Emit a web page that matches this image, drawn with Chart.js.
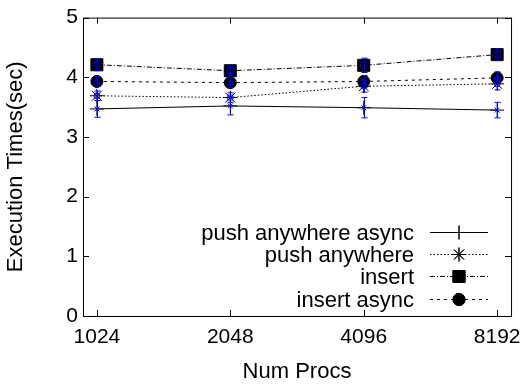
<!DOCTYPE html>
<html lang="en">
<head>
    <meta charset="UTF-8">
    <title>Execution Times</title>
    <script src="https://cdn.jsdelivr.net/npm/chart.js"></script>
    <style>
        body { margin: 0; background: #ffffff; }
        #wrap { width: 530px; height: 388px; }
    </style>
</head>
<body>
    <div id="wrap"><canvas id="chart" width="530" height="388"></canvas></div>

    <script>
        // categories and series
        const procs = ['1024', '2048', '4096', '8192'];
        const pushAnyAsync = [3.47, 3.52, 3.49, 3.45];
        const pushAnyAsyncErr = [0.14, 0.15, 0.17, 0.13];
        const pushAny = [3.69, 3.66, 3.85, 3.89];
        const pushAnyErr = [0.08, 0.08, 0.1, 0.1];
        const insert = [4.21, 4.11, 4.20, 4.38];
        const insertErr = [0.1, 0.08, 0.12, 0.1];
        const insertAsync = [3.93, 3.91, 3.93, 3.99];
        const insertAsyncErr = [0.08, 0.08, 0.1, 0.1];
        const yTicks = [0, 1, 2, 3, 4, 5];

        const FONT = 'Liberation Sans, Arial, sans-serif';
        const BLUE = '#0000ff';

        function pts(vals) {
            return vals.map((v, i) => ({ x: i, y: v }));
        }

        function mainSet(label, vals, dash, style, radius, fill) {
            return {
                label: label,
                data: pts(vals),
                borderColor: '#000',
                borderWidth: 1,
                borderDash: dash,
                pointStyle: style,
                pointRadius: radius,
                pointBorderColor: '#000',
                pointBackgroundColor: fill ? '#000' : 'rgba(0,0,0,0)',
                pointBorderWidth: 1,
                tension: 0,
                fill: false,
                order: 2,
                inLegend: true
            };
        }

        function errSet(vals, errs, style) {
            return {
                label: '',
                data: pts(vals),
                errs: errs,
                showLine: false,
                borderColor: BLUE,
                pointStyle: style,
                pointRadius: 3.5,
                pointBorderColor: BLUE,
                pointBackgroundColor: 'rgba(0,0,0,0)',
                pointBorderWidth: 1,
                order: 0
            };
        }

        // frame, mirrored inward ticks, error bars and the key
        const gnuplotLook = {
            id: 'gnuplotLook',
            afterDatasetsDraw(chart) {
                const ctx = chart.ctx;
                const a = chart.chartArea;
                const xs = chart.scales.x, ys = chart.scales.y;
                ctx.save();

                // error bars
                chart.data.datasets.forEach((ds) => {
                    if (!ds.errs) return;
                    ctx.strokeStyle = BLUE;
                    ctx.lineWidth = 1;
                    ds.data.forEach((p, i) => {
                        const px = Math.round(xs.getPixelForValue(p.x)) + 0.5;
                        const top = ys.getPixelForValue(p.y + ds.errs[i]);
                        const bot = ys.getPixelForValue(p.y - ds.errs[i]);
                        ctx.beginPath();
                        ctx.moveTo(px, top); ctx.lineTo(px, bot);
                        ctx.moveTo(px - 3, top); ctx.lineTo(px + 3, top);
                        ctx.moveTo(px - 3, bot); ctx.lineTo(px + 3, bot);
                        ctx.stroke();
                    });
                });

                // border
                ctx.strokeStyle = '#000';
                ctx.lineWidth = 1;
                ctx.strokeRect(a.left + 0.5, a.top + 0.5, a.right - a.left, a.bottom - a.top);

                // inward ticks on all four sides
                const tl = 6;
                ctx.beginPath();
                yTicks.forEach((v) => {
                    const y = Math.round(ys.getPixelForValue(v)) + 0.5;
                    ctx.moveTo(a.left, y); ctx.lineTo(a.left + tl, y);
                    ctx.moveTo(a.right, y); ctx.lineTo(a.right - tl, y);
                });
                procs.forEach((c, i) => {
                    const x = Math.round(xs.getPixelForValue(i)) + 0.5;
                    ctx.moveTo(x, a.bottom); ctx.lineTo(x, a.bottom - tl);
                    ctx.moveTo(x, a.top); ctx.lineTo(x, a.top + tl);
                });
                ctx.stroke();

                // key, lower right inside the plot
                const textRight = 414, lineL = 430, lineR = 488, rowY = 232, rowH = 22.2;
                ctx.font = '22px ' + FONT;
                ctx.textAlign = 'right';
                ctx.textBaseline = 'middle';
                ctx.fillStyle = '#000';
                const keySets = chart.data.datasets.filter((ds) => ds.inLegend);
                keySets.forEach((ds, k) => {
                    const y = Math.round(rowY + k * rowH) + 0.5;
                    ctx.fillText(ds.label, textRight, y + 1);
                    ctx.setLineDash(ds.borderDash);
                    ctx.beginPath();
                    ctx.moveTo(lineL, y); ctx.lineTo(lineR, y);
                    ctx.stroke();
                    ctx.setLineDash([]);
                    Chart.helpers.drawPoint(ctx, {
                        pointStyle: ds.pointStyle,
                        radius: ds.pointRadius,
                        borderWidth: 1
                    }, (lineL + lineR) / 2, y);
                    ctx.fillStyle = ds.pointBackgroundColor;
                    ctx.strokeStyle = '#000';
                    if (ds.pointBackgroundColor === '#000') ctx.fill();
                    ctx.stroke();
                    ctx.fillStyle = '#000';
                });
                ctx.restore();
            }
        };

        new Chart(document.getElementById('chart').getContext('2d'), {
            type: 'line',
            data: {
                datasets: [
                    errSet(pushAnyAsync, pushAnyAsyncErr, 'crossRot'),
                    errSet(pushAny, pushAnyErr, 'rect'),
                    errSet(insert, insertErr, 'circle'),
                    errSet(insertAsync, insertAsyncErr, 'triangle'),
                    mainSet('push anywhere async', pushAnyAsync, [], 'cross', 7, false),
                    mainSet('push anywhere', pushAny, [1.5, 2], 'star', 7, false),
                    mainSet('insert', insert, [5, 2, 1, 2], 'rect', 8.5, true),
                    mainSet('insert async', insertAsync, [3, 4], 'circle', 6, true)
                ]
            },
            options: {
                responsive: false,
                animation: false,
                layout: { padding: { top: 11, right: 15, left: 0, bottom: 0 } },
                plugins: {
                    legend: { display: false },
                    tooltip: { enabled: false }
                },
                scales: {
                    x: {
                        type: 'linear',
                        min: -0.104,
                        max: 3.104,
                        afterBuildTicks: (s) => { s.ticks = procs.map((c, i) => ({ value: i })); },
                        afterFit: (s) => { s.height = 72; },
                        grid: { display: false, drawTicks: false },
                        border: { display: false },
                        ticks: {
                            padding: 9,
                            color: '#000',
                            font: { family: FONT, size: 21 },
                            maxRotation: 0,
                            callback: (v) => procs[v]
                        },
                        title: {
                            display: true,
                            text: 'Num Procs',
                            color: '#000',
                            font: { family: FONT, size: 22 },
                            padding: { top: 0, bottom: 3 }
                        }
                    },
                    y: {
                        min: 0,
                        max: 5,
                        afterBuildTicks: (s) => { s.ticks = yTicks.map((v) => ({ value: v })); },
                        afterFit: (s) => { s.width = 83; },
                        grid: { display: false, drawTicks: false },
                        border: { display: false },
                        ticks: {
                            padding: 5,
                            color: '#000',
                            font: { family: FONT, size: 21 }
                        },
                        title: {
                            display: true,
                            text: 'Execution Times(sec)',
                            color: '#000',
                            font: { family: FONT, size: 22 },
                            padding: { top: 3, bottom: 0 }
                        }
                    }
                }
            },
            plugins: [gnuplotLook]
        });
    </script>
</body>
</html>
